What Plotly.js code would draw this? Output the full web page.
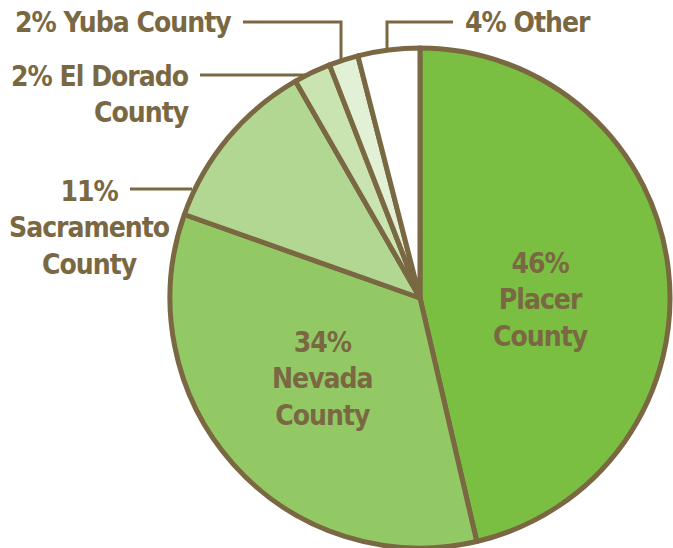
<!DOCTYPE html>
<html>
<head>
<meta charset="utf-8">
<script src="https://cdn.plot.ly/plotly-3.0.1.min.js"></script>
<style>html,body{margin:0;padding:0;background:#fff}#chart{width:673px;height:548px}
.annotation-text{font-stretch:condensed !important;letter-spacing:-1px;}</style>
</head>
<body>
<div id="chart"></div>
<script>
const categories = ["Placer County", "Nevada County", "Sacramento County", "El Dorado County", "Yuba County", "Other"];
const shares = [46.4, 34.1, 11.3, 2.4, 1.9, 4.0];
const pctLabels = ["46%", "34%", "11%", "2%", "2%", "4%"];
const sliceColors = ["#7bbf42", "#93c965", "#b2d792", "#c9e3b1", "#e2f0d6", "#ffffff"];

const brown = "#7a6843";
const W = 673, H = 548;
const font = {family: "DejaVu Sans Condensed, DejaVu Sans, sans-serif", size: 28, color: brown, weight: 700};

function px(x){ return x / W; }
function py(y){ return 1 - y / H; }

const data = [{
  type: "pie",
  labels: categories,
  values: shares,
  sort: false,
  direction: "clockwise",
  rotation: 0,
  textinfo: "none",
  hoverinfo: "label+percent",
  marker: {colors: sliceColors, line: {color: brown, width: 5}},
  domain: {x: [px(170), px(670)], y: [py(548), py(48)]},
  showlegend: false
}];

function ann(text, x, y, xanchor){
  return {text: text, x: px(x), y: py(y), xref: "paper", yref: "paper",
    xanchor: xanchor || "center", yanchor: "middle", showarrow: false,
    font: Object.assign({}, font), align: xanchor === "right" ? "right" : "center"};
}
const annotations = [
  ann(pctLabels[0] + "<br>Placer<br>County", 540, 300),
  ann(pctLabels[1] + "<br>Nevada<br>County", 322, 379),
  ann(pctLabels[2] + "<br>Sacramento<br>County", 89, 228),
  ann(pctLabels[3] + " El Dorado<br>County", 191, 94, "right"),
  ann(pctLabels[4] + " Yuba County", 233, 22, "right"),
  ann(pctLabels[5] + " Other", 463, 22, "left")
];

function line(pts){
  let d = "M " + pts.map(p => px(p[0]) + " " + py(p[1])).join(" L ");
  return {type: "path", xref: "paper", yref: "paper", path: d, line: {color: brown, width: 3}};
}
const shapes = [
  line([[243, 22], [341, 22], [341, 60]]),
  line([[387, 48], [387, 22], [453, 22]]),
  line([[200, 75], [308, 75]]),
  line([[130, 189], [192, 189]])
];

Plotly.newPlot("chart", data, {
  width: W, height: H,
  margin: {l: 0, r: 0, t: 0, b: 0},
  paper_bgcolor: "#ffffff",
  annotations: annotations,
  shapes: shapes
}, {displayModeBar: false, staticPlot: true});
</script>
</body>
</html>
